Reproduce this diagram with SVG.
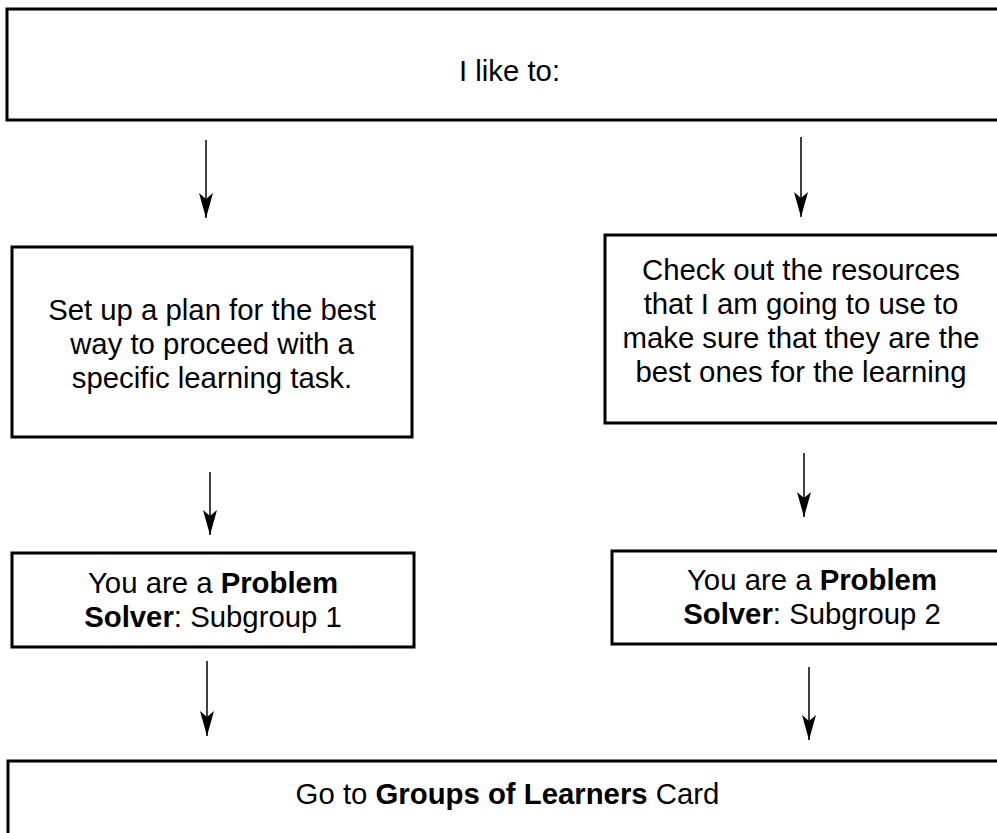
<svg xmlns="http://www.w3.org/2000/svg" width="997" height="833" viewBox="0 0 997 833">
  <style>
    .box { fill: #ffffff; stroke: #000000; stroke-width: 3; }
    .lbl { font-family: "Liberation Sans", Arial, sans-serif; font-size: 29.33px; fill: #000000; text-anchor: middle; }
    .b { font-weight: bold; }
    .conn { stroke: #000000; stroke-width: 1.5; fill: none; marker-end: url(#arrow); }
  </style>
  <defs>
    <!-- barbed, solid arrowhead; tip sits on the line end -->
    <marker id="arrow" markerUnits="userSpaceOnUse" markerWidth="30" markerHeight="20" viewBox="-26 -10 28 20" refX="0" refY="0" orient="auto">
      <path d="M0,0 L-25,-7 L-19,0 L-25,7 Z" fill="#000000"/>
    </marker>
  </defs>
  <rect width="997" height="833" fill="#ffffff"/>

  <g id="connectors">
    <line class="conn" x1="206" y1="140" x2="206" y2="218"/>
    <line class="conn" x1="801" y1="137" x2="801" y2="217"/>
    <line class="conn" x1="210" y1="472" x2="210" y2="535"/>
    <line class="conn" x1="804" y1="453" x2="804" y2="517"/>
    <line class="conn" x1="207" y1="661" x2="207" y2="736"/>
    <line class="conn" x1="809" y1="667" x2="809" y2="740"/>
  </g>

  <g id="start">
    <rect class="box" x="7" y="9" width="1005" height="111"/>
    <text class="lbl" x="509.5" y="81">I like to:</text>
  </g>

  <g id="plan">
    <rect class="box" x="12" y="247" width="400" height="190"/>
    <text class="lbl" x="212" y="320">Set up a plan for the best</text>
    <text class="lbl" x="212" y="354">way to proceed with a</text>
    <text class="lbl" x="212" y="388">specific learning task.</text>
  </g>

  <g id="resources">
    <rect class="box" x="605" y="235" width="394" height="188"/>
    <text class="lbl" x="801" y="280">Check out the resources</text>
    <text class="lbl" x="801" y="314">that I am going to use to</text>
    <text class="lbl" x="801" y="348">make sure that they are the</text>
    <text class="lbl" x="801" y="382">best ones for the learning</text>
  </g>

  <g id="subgroup1">
    <rect class="box" x="12" y="553" width="402" height="94"/>
    <text class="lbl" x="213" y="593">You are a <tspan class="b">Problem</tspan></text>
    <text class="lbl" x="213" y="627"><tspan class="b">Solver</tspan>: Subgroup 1</text>
  </g>

  <g id="subgroup2">
    <rect class="box" x="612" y="551" width="400" height="93"/>
    <text class="lbl" x="812" y="590">You are a <tspan class="b">Problem</tspan></text>
    <text class="lbl" x="812" y="624"><tspan class="b">Solver</tspan>: Subgroup 2</text>
  </g>

  <g id="groups-card">
    <rect class="box" x="8" y="761" width="1000" height="100"/>
    <text class="lbl" x="507.5" y="804">Go to <tspan class="b">Groups of Learners</tspan> Card</text>
  </g>
</svg>
